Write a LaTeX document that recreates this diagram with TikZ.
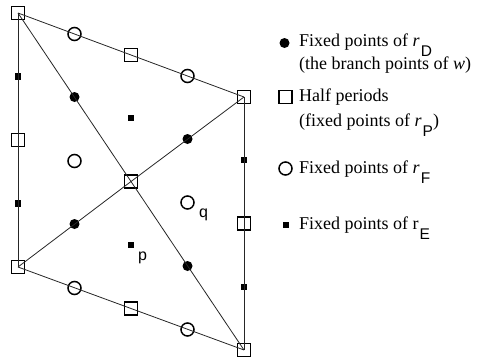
\documentclass[tikz,border=0pt]{standalone}
\usepackage{fontspec}
\setmainfont{Liberation Serif}
\newfontfamily\arialfont{Liberation Sans}
\newcommand{\subl}[1]{\kern1pt\raisebox{-10pt}{\fontsize{15.5}{18}\arialfont #1}}

\begin{document}
\begin{tikzpicture}
  [x=1pt,y=-1pt,every node/.style={inner sep=0pt},
   half/.style={rectangle,draw,line width=1.8pt,minimum size=13pt},
   ffix/.style={circle,draw,line width=1.5pt,minimum size=13pt},
   dfix/.style={circle,fill,minimum size=10pt},
   efix/.style={rectangle,fill,minimum size=6.5pt},
   txt/.style={anchor=base west,font=\fontsize{18}{20}\selectfont},
   lbl/.style={anchor=base west,font=\fontsize{16}{18}\arialfont}]
  \useasboundingbox (0,0) rectangle (480,364);
  % half periods
  \node[half] (H_TL) at (18,13) {};
  \node[half] (H_RT) at (244,97) {};
  \node[half] (H_C) at (131,181.5) {};
  \node[half] (H_LB) at (18,267) {};
  \node[half] (H_BR) at (244,350) {};
  \node[half] (H_T) at (131,55) {};
  \node[half] (H_B) at (131,308.5) {};
  \node[half] (H_L) at (18,140) {};
  \node[half] (H_R) at (244,223.5) {};
  % fixed points of r_D
  \node[dfix] (D_1) at (74.5,97) {};
  \node[dfix] (D_2) at (187.5,139) {};
  \node[dfix] (D_3) at (74.5,224) {};
  \node[dfix] (D_4) at (187.5,266) {};
  % fixed points of r_F
  \node[ffix] (F_1) at (74.5,34) {};
  \node[ffix] (F_2) at (187.5,76) {};
  \node[ffix] (F_3) at (74.5,161) {};
  \node[ffix] (F_4) at (187.5,202.5) {};
  \node[ffix] (F_5) at (74.5,288) {};
  \node[ffix] (F_6) at (187.5,329.5) {};
  % fixed points of r_E
  \node[efix] (E_1) at (18,76.5) {};
  \node[efix] (E_2) at (18,203.5) {};
  \node[efix] (E_3) at (244,160) {};
  \node[efix] (E_4) at (244,287) {};
  \node[efix] (E_5) at (131,118) {};
  \node[efix] (E_6) at (131,245) {};
  \node[lbl] (L_q) at (199,217.5) {q};
  \node[lbl] (L_p) at (138,260) {p};
  \foreach \from/\to in {H_TL/H_RT,H_RT/H_BR,H_BR/H_LB,H_LB/H_TL,H_TL/H_C,H_C/H_BR,H_LB/H_C,H_C/H_RT}
    \draw[line width=.8pt,black!85] (\from.center) -- (\to.center);

  % legend
  \node[dfix] (K_D) at (284.5,43) {};
  \node[half] (K_H) at (285.5,97) {};
  \node[ffix] (K_F) at (285.5,168.5) {};
  \node[efix] (K_E) at (286,225) {};
  \node[txt] (T_D1) at (299,46) {Fixed points of \textit{r}\subl{D}};
  \node[txt] (T_D2) at (299,69) {(the branch points of \textit{w})};
  \node[txt] (T_H1) at (299,101) {Half periods};
  \node[txt] (T_H2) at (299,126) {(fixed points of \textit{r}\subl{P})};
  \node[txt] (T_F) at (299,173) {Fixed points of \textit{r}\subl{F}};
  \node[txt] (T_E) at (299,229) {Fixed points of r\subl{E}};

\end{tikzpicture}
\end{document}
